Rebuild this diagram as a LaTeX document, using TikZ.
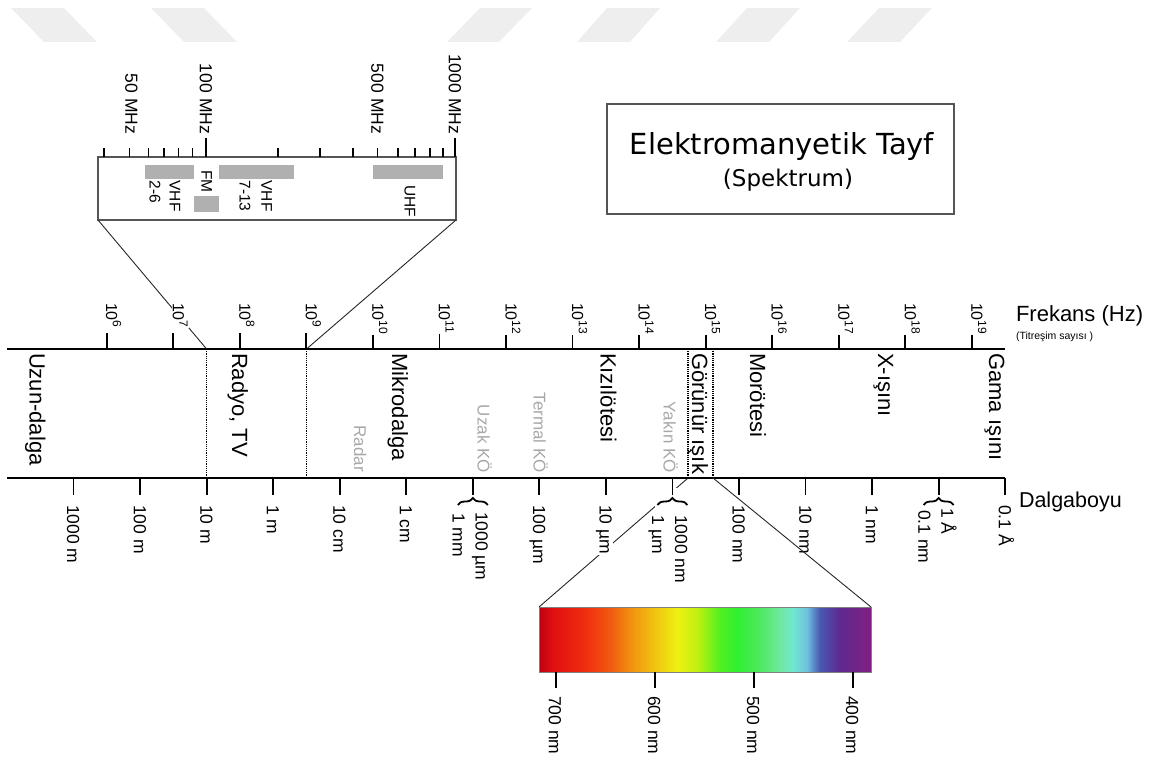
\documentclass[tikz,border=0pt]{standalone}
\usepackage{fontspec}
\setmainfont{Liberation Sans}
\newfontfamily\titlefont{DejaVu Sans}
\usetikzlibrary{decorations.pathreplacing}
\newcommand\fsz[1]{\fontsize{#1}{#1}\selectfont}
\definecolor{wmcol}{HTML}{EEEEEE}
\definecolor{graytxt}{HTML}{A8A8A8}
\definecolor{barcol}{HTML}{B0B0B0}
\definecolor{boxcol}{HTML}{555555}
\definecolor{sp0}{HTML}{C00010}
\definecolor{sp1}{HTML}{E01010}
\definecolor{sp2}{HTML}{F03010}
\definecolor{sp3}{HTML}{F06010}
\definecolor{sp4}{HTML}{F09010}
\definecolor{sp5}{HTML}{F0C010}
\definecolor{sp6}{HTML}{EEF010}
\definecolor{sp7}{HTML}{C0F010}
\definecolor{sp8}{HTML}{50F020}
\definecolor{sp9}{HTML}{30F030}
\definecolor{sp10}{HTML}{50E860}
\definecolor{sp11}{HTML}{70E8A0}
\definecolor{sp12}{HTML}{70E8D0}
\definecolor{sp13}{HTML}{70C0E0}
\definecolor{sp14}{HTML}{4858B0}
\definecolor{sp15}{HTML}{602890}
\definecolor{sp16}{HTML}{802080}
\pgfdeclarehorizontalshading{visspec}{100bp}{color(0bp)=(sp0); color(25bp)=(sp0); color(27.1bp)=(sp1); color(32.25bp)=(sp2); color(36.15bp)=(sp3); color(38.7bp)=(sp4); color(42.15bp)=(sp5); color(45.8bp)=(sp6); color(48.8bp)=(sp7); color(52.25bp)=(sp8); color(54.8bp)=(sp9); color(58.3bp)=(sp10); color(61.3bp)=(sp11); color(63.25bp)=(sp12); color(65.35bp)=(sp13); color(67.3bp)=(sp14); color(70.35bp)=(sp15); color(75bp)=(sp16); color(100bp)=(sp16)}
\begin{document}
\begin{tikzpicture}[x=1pt,y=-1pt,
  every node/.style={inner sep=0pt,outer sep=0pt},
  wm/.style={fill=wmcol},
  axisline/.style={line width=1.5pt},
  tickline/.style={line width=1.8pt},
  conn/.style={line width=0.9pt,black!85},
  dotv/.style={line width=1.1pt,dash pattern=on 1.1pt off 1.1pt},
  band/.style={rotate=-90,anchor=base west,font=\fsz{22}},
  gband/.style={rotate=-90,anchor=base east,font=\fsz{17},text=graytxt},
  wlab/.style={rotate=-90,anchor=base west,font=\fsz{17.5},fill=white,inner sep=1pt},
  flab/.style={rotate=-90,anchor=base west,font=\fsz{16},fill=white,inner sep=1pt},
  mlab/.style={rotate=-90,anchor=east,font=\fsz{17.5}},
  blab/.style={rotate=-90,anchor=west,font=\fsz{15.5}},
  bracestyle/.style={decorate,decoration={brace,amplitude=7pt},line width=1.8pt},
  gbar/.style={fill=barcol}]
\useasboundingbox (0,0) rectangle (1152,760);
% watermark
\fill[wm] (11,8) -- (64,8) -- (97,42) -- (44,42) -- cycle;
\fill[wm] (151,8) -- (204,8) -- (237,42) -- (184,42) -- cycle;
\fill[wm] (480,8) -- (532,8) -- (499,42) -- (447,42) -- cycle;
\fill[wm] (607,8) -- (660,8) -- (630,42) -- (577,42) -- cycle;
\fill[wm] (747,8) -- (800,8) -- (769,42) -- (716,42) -- cycle;
\fill[wm] (879,8) -- (932,8) -- (900,42) -- (847,42) -- cycle;
% title
\node[draw=boxcol,line width=1.2pt,minimum width=347pt,minimum height=110pt] (tbox) at (780.5,159) {};
\node[anchor=base,font=\titlefont\fsz{29}] (t1) at (782,154) {Elektromanyetik Tayf};
\node[anchor=base,font=\titlefont\fsz{23}] (t2) at (788,186) {(Spektrum)};
% coordinates
\coordinate (d1t) at (206.6,349); \coordinate (d1b) at (206.6,478);
\coordinate (d2t) at (306.5,349); \coordinate (d2b) at (306.5,478);
\coordinate (v1t) at (688,349); \coordinate (v1b) at (688,478);
\coordinate (v2t) at (713,349); \coordinate (v2b) at (713,478);
\coordinate (fL) at (7,349); \coordinate (fR) at (1005,349);
\coordinate (wL) at (7,478); \coordinate (wR) at (1005,478);
% MHz box
\node[draw=boxcol,line width=1.1pt,minimum width=358pt,minimum height=63pt] (mbox) at (277,188.5) {};
\draw[conn] (mbox.south west) -- (d1t);
\draw[conn] (mbox.south east) -- (d2t);
% spectrum bar
\node[shading=visspec,draw=gray,line width=0.8pt,minimum width=332pt,minimum height=65pt] (spec) at (705,639.5) {};
\draw[conn] (v1b) -- (spec.north west);
% MHz ticks
\foreach \x in {104,129.5,148.5,164,178.5,192.5,278,320,353,377.5,398,415,430,443}
  \draw[line width=1.5pt] (\x,157) -- (\x,148);
\foreach \x in {206,455}
  \draw[line width=1.5pt] (\x,157) -- (\x,138);
\node[mlab] (m50) at (131.5,134) {50 MHz};
\node[mlab] (m100) at (206,134) {100 MHz};
\node[mlab] (m500) at (377.5,134) {500 MHz};
\node[mlab] (m1000) at (455,134) {1000 MHz};
\fill[gbar] (145,165) rectangle (194,179.3);
\fill[gbar] (194,196) rectangle (219,212.3);
\fill[gbar] (219.3,165) rectangle (294,179.3);
\fill[gbar] (373.3,165) rectangle (443.3,179.3);
\node[blab] (vhf1) at (175,180.5) {VHF};
\node[blab] (vhf1n) at (155,180.5) {2-6};
\node[blab] (fm) at (206.7,170) {FM};
\node[blab] (vhf2) at (266.7,180.5) {VHF};
\node[blab] (vhf2n) at (245,180.5) {7-13};
\node[blab] (uhf) at (410,185) {UHF};
% axes
\draw[axisline] (fL) -- (fR);
\draw[axisline] (wL) -- (wR);
\draw[dotv] (d1t) -- (d1b);
\draw[dotv] (d2t) -- (d2b);
\draw[dotv] (v1t) -- (v1b);
\draw[dotv] (v2t) -- (v2b);
% frequency ticks
\foreach \n in {6,...,19}{
  \pgfmathsetmacro\xx{106.7+(\n-6)*66.55}
  \draw[tickline] (\xx,333) -- (\xx,349);
  \node[flab] (f\n) at (\xx-0.5,302) {10\raisebox{0.42em}{\fsz{12}\n}};
}
\node[anchor=base west,font=\fsz{22}] (fr) at (1016,321.5) {Frekans (Hz)};
\node[anchor=base west,font=\fsz{10.5}] (fr2) at (1016,339) {(Titreşim sayısı )};
% band labels
\node[band] (b1) at (29.5,353) {Uzun-dalga};
\node[band] (b2) at (232,353) {Radyo, TV};
\node[band] (b3) at (392,353) {Mikrodalga};
\node[band] (b4) at (600.5,353) {Kızılötesi};
\node[band] (b5) at (692,353) {Görünür ışık};
\node[band] (b6) at (750,353) {Morötesi};
\node[band] (b7) at (878,353) {X-ışını};
\node[band] (b8) at (989,353) {Gama ışını};
\node[gband] (g1) at (354,472) {Radar};
\node[gband] (g2) at (477.5,473) {Uzak KÖ};
\node[gband] (g3) at (533.5,473) {Termal KÖ};
\node[gband] (g4) at (663.5,473) {Yakın KÖ};
% wavelength
\foreach \k in {6,9,13}
  \fill[white] ({73.5+66.55*\k-17},488) rectangle ({73.5+66.55*\k+17},511);
\foreach \k in {0,...,14}
  \draw[tickline] ({73.5+66.55*\k},478) -- ({73.5+66.55*\k},495);
\foreach \k in {6,9,13}
  \draw[bracestyle] ({73.5+66.55*\k-15},505) -- ({73.5+66.55*\k+15},505);
\foreach \k/\t in {0/1000 m,1/100 m,2/10 m,3/1 m,4/10 cm,5/1 cm,7/100 µm,8/10 µm,10/100 nm,11/10 nm,12/1 nm,14/0.1 Å}
  \node[wlab] (w\k) at ({73.5+66.55*\k-6.3},504) {\t};
\node[wlab] (w6a) at (475.5,511) {1000 µm};
\node[wlab] (w6b) at (452.5,512) {1 mm};
\node[wlab] (w9a) at (675.2,514) {1000 nm};
\node[wlab] (w9b) at (652.2,514) {1 µm};
\node[wlab] (w13a) at (941.4,507) {1 Å};
\node[wlab] (w13b) at (918.4,509) {0.1 nm};
\node[anchor=base west,font=\fsz{21.5}] (dl) at (1019,507.5) {Dalgaboyu};
\draw[conn] (v2b) -- (spec.north east);
% spectrum ticks
\foreach \x/\t in {555.7/700 nm,655/600 nm,754/500 nm,853/400 nm}{
  \draw[tickline] (\x,672) -- (\x,688);
  \node[rotate=-90,anchor=base west,font=\fsz{17.5}] at (\x-6.8,696) {\t};
}
\end{tikzpicture}
\end{document}
